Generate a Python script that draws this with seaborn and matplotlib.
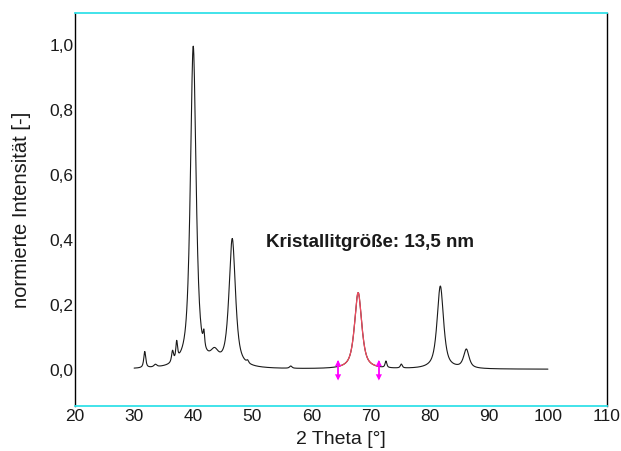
import numpy as np
import pandas as pd
import matplotlib
matplotlib.use("Agg")
import matplotlib.pyplot as plt
from matplotlib.ticker import FuncFormatter
import seaborn as sns

# Reflections of the diffractogram: position (2θ), normalised height, FWHM
peak_pos = [31.8, 33.6, 36.5, 37.2, 40.0, 41.8, 43.6, 46.6, 49.2, 56.5, 67.9, 72.6, 75.2, 81.8, 86.2]
peak_height = [0.05, 0.008, 0.035, 0.055, 0.99, 0.045, 0.035, 0.395, 0.008, 0.007, 0.235, 0.02, 0.012, 0.255, 0.058]
peak_fwhm = [0.4, 0.6, 0.4, 0.35, 1.15, 0.3, 1.6, 1.3, 0.4, 0.5, 1.45, 0.35, 0.4, 1.3, 1.1]

scan_start, scan_end, scan_step = 30.0, 100.0, 0.05
baseline = 0.003

# Fitted reflection and its integration limits
fit_start, fit_end = 64.5, 71.4
size_label = "Kristallitgröße: 13,5 nm"


def pseudo_voigt(x, x0, h, w, eta=0.75):
    g = np.exp(-4 * np.log(2) * ((x - x0) / w) ** 2)
    lo = 1.0 / (1.0 + 4 * ((x - x0) / w) ** 2)
    return h * (eta * lo + (1 - eta) * g)


theta = np.arange(scan_start, scan_end + scan_step / 2, scan_step)
intensity = np.full_like(theta, baseline)
for p, h, w in zip(peak_pos, peak_height, peak_fwhm):
    intensity += pseudo_voigt(theta, p, h, w)
df = pd.DataFrame({"2theta": theta, "I": intensity})
fit = df[(df["2theta"] >= fit_start) & (df["2theta"] <= fit_end)]

sns.set_theme(style="white")
plt.rcParams["font.family"] = ["Liberation Sans", "DejaVu Sans"]

fig = plt.figure(figsize=(6.21, 4.51), dpi=100)
ax = fig.add_axes([0.1208, 0.0998, 0.8567, 0.8714])

sns.lineplot(data=df, x="2theta", y="I", ax=ax, color="#1a1a1a", lw=0.8)
sns.lineplot(data=fit, x="2theta", y="I", ax=ax, color="#f04a5e", lw=0.9)

# Integration limits drawn as small vertical double arrows
marker_df = pd.DataFrame({"x": [fit_start, fit_end], "y": [0.0, 0.0]})
ax.vlines(marker_df["x"], -0.028, 0.028, color="#ff00ff", lw=1.3, zorder=5)
for m, dy in (("^", 0.022), ("v", -0.022)):
    sns.scatterplot(x=marker_df["x"], y=marker_df["y"] + dy, ax=ax, marker=m,
                    color="#ff00ff", s=20, edgecolor="none", zorder=6)

ax.text(52.3, 0.394, size_label, fontsize=13.5, fontweight="bold",
        ha="left", va="center", color="#1a1a1a")

ax.set_xlim(20, 110)
ax.set_ylim(-0.11, 1.1)
ax.set_xticks(np.arange(20, 111, 10))
ax.set_yticks(np.arange(0, 1.01, 0.2))
ax.yaxis.set_major_formatter(FuncFormatter(lambda v, _: f"{v:.1f}".replace(".", ",")))
ax.tick_params(axis="both", length=0, labelsize=12.5, colors="#1a1a1a")
ax.tick_params(axis="y", pad=1)
ax.tick_params(axis="x", pad=2)

ax.set_xlabel("2 Theta [°]", fontsize=14, color="#1a1a1a", labelpad=5)
ax.set_ylabel("normierte Intensität [-]", fontsize=14.5, color="#1a1a1a", labelpad=13)

for side in ("left", "right"):
    ax.spines[side].set_color("black")
    ax.spines[side].set_linewidth(1.0)
for side in ("top", "bottom"):
    ax.spines[side].set_color("#33e0e8")
    ax.spines[side].set_linewidth(1.3)

fig.savefig("out.png", dpi=100)
